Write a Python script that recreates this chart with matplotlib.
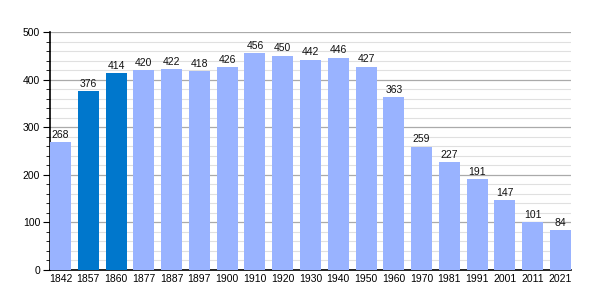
import matplotlib
matplotlib.use("Agg")
import matplotlib.pyplot as plt
import numpy as np

years = ["1842", "1857", "1860", "1877", "1887", "1897", "1900", "1910", "1920", "1930",
         "1940", "1950", "1960", "1970", "1981", "1991", "2001", "2011", "2021"]
values = [268, 376, 414, 420, 422, 418, 426, 456, 450, 442, 446, 427, 363, 259, 227, 191, 147, 101, 84]
highlight = ["1857", "1860"]

plt.rcParams['font.family'] = ['Liberation Sans', 'DejaVu Sans']
fig = plt.figure(figsize=(6, 3), dpi=100)
ax = fig.add_axes([50/600, 30/300, 521/600, 238/300])

x = np.arange(len(years))
w = 0.755
colors = ["#0077cc" if y in highlight else "#99b3ff" for y in years]
ax.bar(x, values, width=w, color=colors, zorder=3)
for xi, v in zip(x, values):
    ax.text(xi, v + 5, str(v), ha="center", va="bottom", fontsize=7.5, color="#111111", zorder=4)

ax.set_xlim(-w / 2, len(years) - 1 + w / 2)
ax.set_ylim(0, 500)
ax.set_yticks(np.arange(0, 501, 100))
ax.set_yticks(np.arange(0, 501, 20), minor=True)
ax.set_xticks(x)
ax.set_xticklabels(years)
ax.tick_params(axis="x", length=0, labelsize=7.5, pad=3)
ax.tick_params(axis="y", which="major", length=5, labelsize=7.5, pad=2)
ax.tick_params(axis="y", which="minor", length=3)
for yv in np.arange(20, 501, 20):
    if yv % 100 == 0:
        ax.axhline(yv, color="#aaaaaa", lw=0.9, zorder=1)
    else:
        ax.axhline(yv, color="#e0e0e0", lw=0.8, zorder=1)
for s in ["top", "right"]:
    ax.spines[s].set_visible(False)
ax.spines["left"].set_linewidth(1.2)
ax.spines["bottom"].set_linewidth(1.2)
fig.savefig("out.png", dpi=100)
